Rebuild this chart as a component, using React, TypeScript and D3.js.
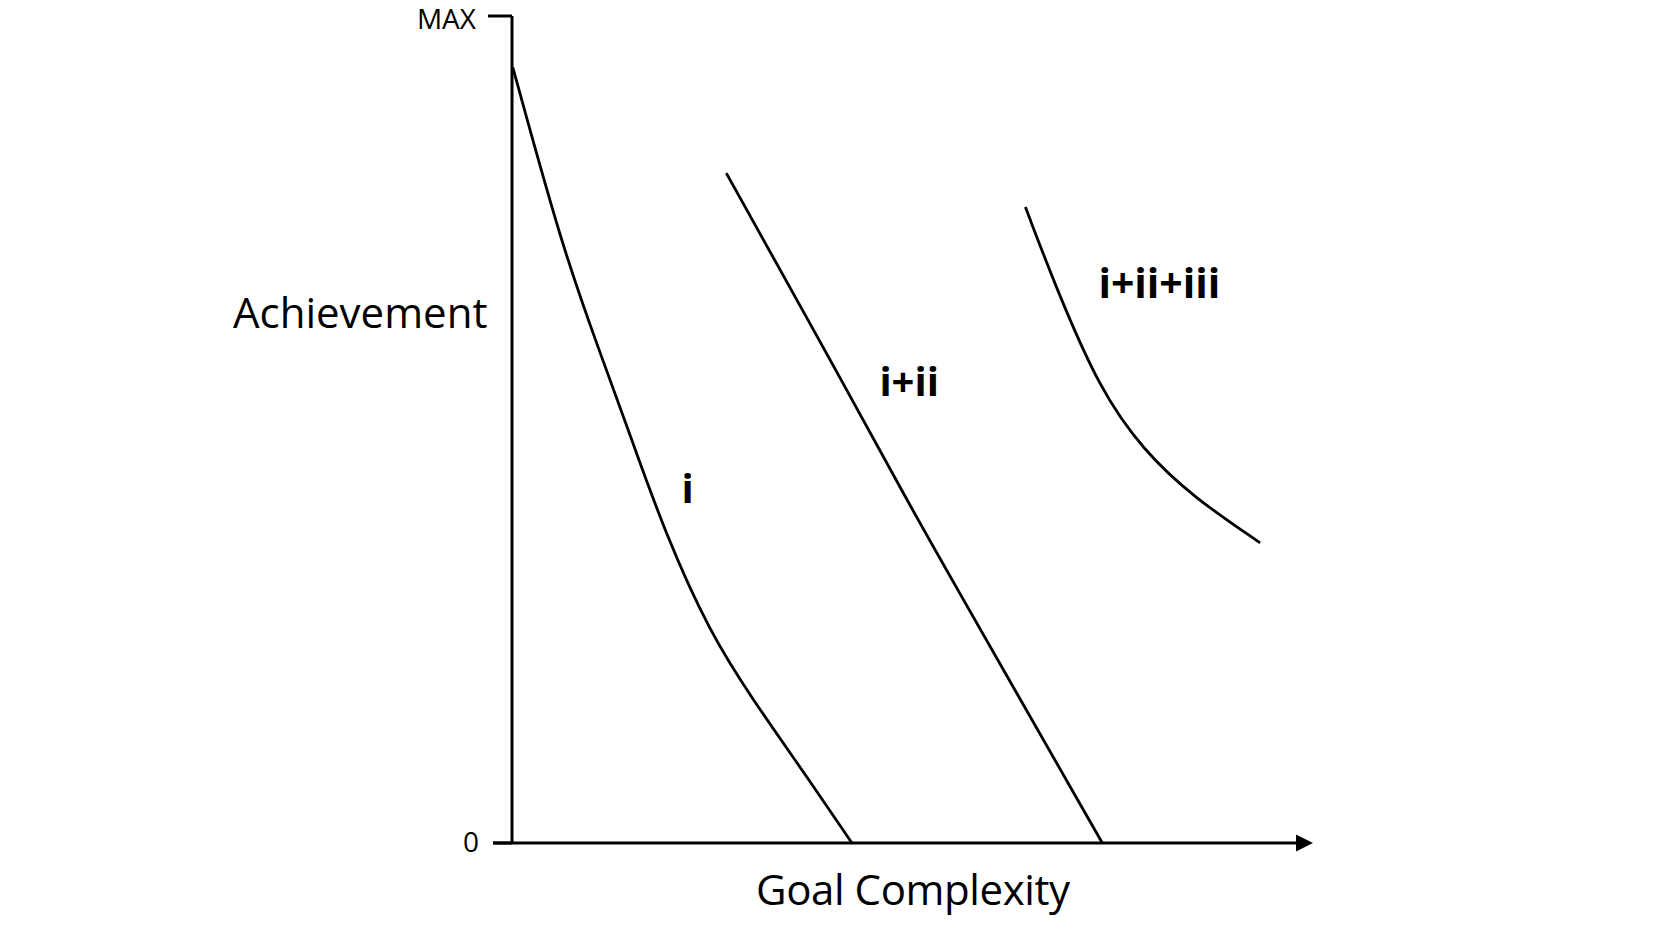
import * as d3 from "d3";

// curve data, in axis units (x: 0..100 goal complexity, y: 0..100 achievement where 100 = MAX)
const curveI: [number, number][] = [
  [0.1, 93.8],
  [6.5, 71.7],
  [11.1, 59.6],
  [15.4, 48.4],
  [19.5, 37.5],
  [25.2, 25.4],
  [30.7, 17.3],
  [36.7, 9.2],
  [43.3, 0],
];
const curveII: [number, number][] = [
  [27.3, 81.0],
  [42.2, 55.6],
  [50.3, 41.5],
  [53.9, 35.4],
  [75.2, 0],
];
const curveIII: [number, number][] = [
  [65.4, 76.9],
  [69.4, 66.9],
  [74.9, 54.8],
  [80.4, 47.5],
  [86.8, 41.8],
  [95.3, 36.3],
];
const series = [curveI, curveII, curveIII];

const labelNames = ["i", "i+ii", "i+ii+iii"];
const labelX = [21.6, 46.8, 74.7];
const labelY = [41.1, 54.0, 65.9];
const labelSize = [40, 40, 41];

const yTicks = [0, 100];
const yTickLabels = ["0", "MAX"];

export default function App() {
  const width = 1661;
  const height = 934;
  const marginLeft = 512;
  const marginTop = 16;
  const axisRight = 1297; // where the arrowhead starts
  const axisBottom = 843;

  const x = d3.scaleLinear().domain([0, 100]).range([marginLeft, axisRight]);
  const y = d3.scaleLinear().domain([0, 100]).range([axisBottom, marginTop]);

  // smooth hand-drawn looking curves
  const line = d3
    .line<[number, number]>()
    .x((d) => x(d[0]))
    .y((d) => y(d[1]))
    .curve(d3.curveBasis);

  const font = "'Open Sans', 'DejaVu Sans', sans-serif";

  return (
    <svg
      width={width}
      height={height}
      style={{ position: "absolute", left: 0, top: 0, background: "#fff" }}
    >
      {/* curves */}
      {series.map((s, i) => (
        <path key={i} d={line(s) ?? ""} fill="none" stroke="#000" strokeWidth={2.8} />
      ))}

      {/* curve labels */}
      {labelNames.map((name, i) => (
        <text
          key={name}
          x={x(labelX[i])}
          y={y(labelY[i])}
          fontFamily={font}
          fontWeight="bold"
          fontSize={labelSize[i]}
          fill="#000"
        >
          {name}
        </text>
      ))}

      {/* Y axis */}
      <line x1={x(0)} x2={x(0)} y1={y(100)} y2={y(0)} stroke="#000" strokeWidth={3} />
      {yTicks.map((t, i) => (
        <g key={t}>
          <line
            x1={x(0) - (t === 0 ? 19 : 24)}
            x2={x(0)}
            y1={y(t)}
            y2={y(t)}
            stroke="#000"
            strokeWidth={3}
          />
          <text
            x={x(0) - (t === 0 ? 33 : 36)}
            y={y(t) + (t === 0 ? 9 : 13)}
            textAnchor="end"
            fontFamily={font}
            fontSize={28}
            fill="#000"
          >
            {yTickLabels[i]}
          </text>
        </g>
      ))}

      {/* X axis with arrow */}
      <line x1={x(0) - 19} x2={x(100)} y1={y(0)} y2={y(0)} stroke="#000" strokeWidth={3} />
      <path
        d={`M${x(100) - 1},${y(0) - 8.5} L${x(100) + 16},${y(0)} L${x(100) - 1},${y(0) + 8.5} Z`}
        fill="#000"
      />

      {/* axis titles */}
      <text x={233} y={328} fontFamily={font} fontSize={42} fill="#000">
        Achievement
      </text>
      <text x={756} y={905} fontFamily={font} fontSize={42} fill="#000" textLength={314}>
        Goal Complexity
      </text>
    </svg>
  );
}
